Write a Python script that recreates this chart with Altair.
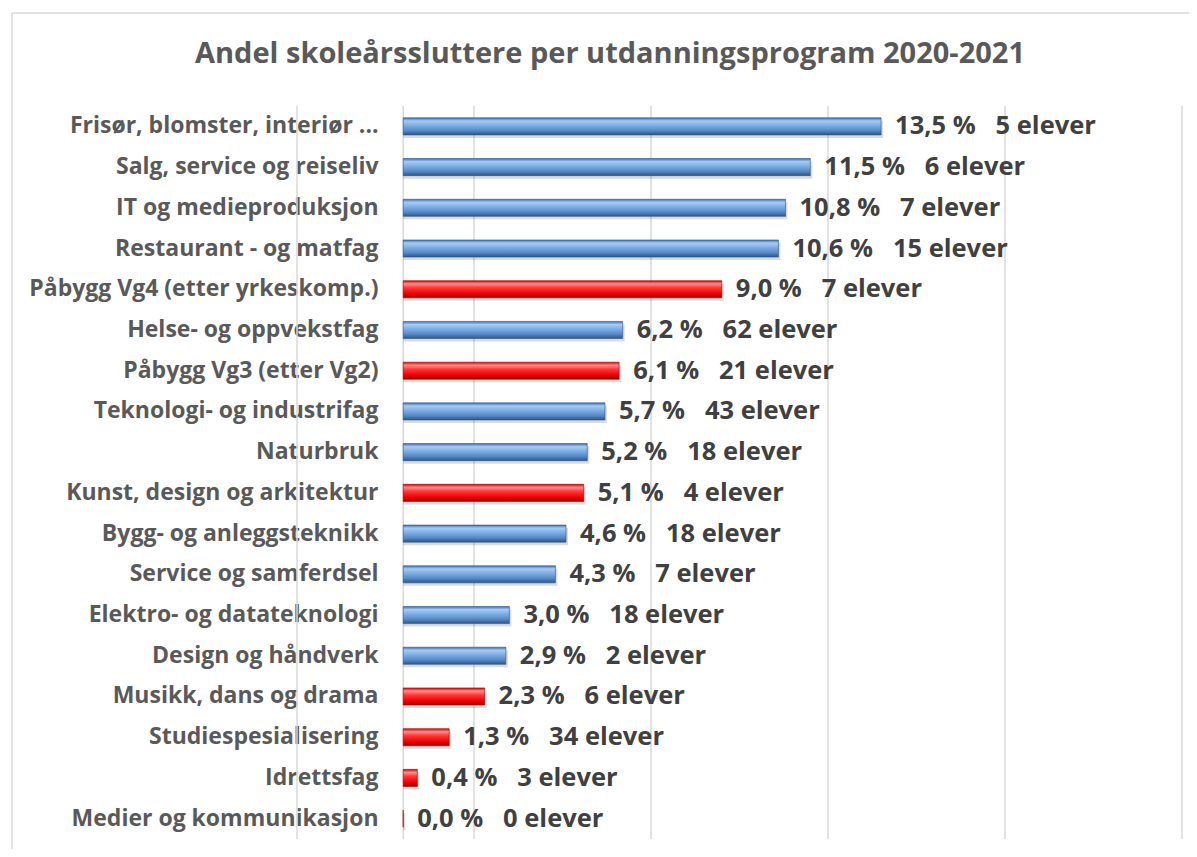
import altair as alt
import pandas as pd

categories = [
    "Frisør, blomster, interiør ...",
    "Salg, service og reiseliv",
    "IT og medieproduksjon",
    "Restaurant - og matfag",
    "Påbygg Vg4 (etter yrkeskomp.)",
    "Helse- og oppvekstfag",
    "Påbygg Vg3 (etter Vg2)",
    "Teknologi- og industrifag",
    "Naturbruk",
    "Kunst, design og arkitektur",
    "Bygg- og anleggsteknikk",
    "Service og samferdsel",
    "Elektro- og datateknologi",
    "Design og håndverk",
    "Musikk, dans og drama",
    "Studiespesialisering",
    "Idrettsfag",
    "Medier og kommunikasjon",
]
percent = [13.5, 11.5, 10.8, 10.6, 9.0, 6.2, 6.1, 5.7, 5.2, 5.1, 4.6, 4.3, 3.0, 2.9, 2.3, 1.3, 0.4, 0.0]
students = [5, 6, 7, 15, 7, 62, 21, 43, 18, 4, 18, 7, 18, 2, 6, 34, 3, 0]
program_type = [
    "Yrkesfag", "Yrkesfag", "Yrkesfag", "Yrkesfag", "Påbygg/Studieforb.",
    "Yrkesfag", "Påbygg/Studieforb.", "Yrkesfag", "Yrkesfag", "Påbygg/Studieforb.",
    "Yrkesfag", "Yrkesfag", "Yrkesfag", "Yrkesfag", "Påbygg/Studieforb.",
    "Påbygg/Studieforb.", "Påbygg/Studieforb.", "Påbygg/Studieforb.",
]
grid_values = [-3, 0, 2, 7, 12, 17, 22]
title_text = "Andel skoleårssluttere per utdanningsprogram 2020-2021"

NB = "\u00a0"
df = pd.DataFrame({"program": categories, "pct": percent, "n": students, "type": program_type})
df["label"] = [
    f"{p:.1f}".replace(".", ",") + NB + "%" + NB * 3 + f"{n}" + NB + "elever"
    for p, n in zip(percent, students)
]

FONT = "Open Sans"

x_scale = alt.Scale(domain=[-3, 22], nice=False, zero=False)
y_enc = alt.Y(
    "program:N",
    sort=categories,
    scale=alt.Scale(paddingInner=0.58, paddingOuter=0.29),
    axis=alt.Axis(
        title=None, domain=False, ticks=False, grid=False,
        labelFont=FONT, labelFontSize=23, labelFontWeight="bold",
        labelColor="#595959", offset=-83, labelPadding=2, labelLimit=400,
    ),
)
x_enc = alt.X("pct:Q", scale=x_scale, axis=None)

blue_grad = alt.Gradient(
    gradient="linear", x1=0, x2=0, y1=0, y2=1,
    stops=[
        alt.GradientStop(color="#3D6FAE", offset=0.0),
        alt.GradientStop(color="#A7CBF2", offset=0.18),
        alt.GradientStop(color="#84B3E8", offset=0.4),
        alt.GradientStop(color="#5588C6", offset=0.75),
        alt.GradientStop(color="#2C5587", offset=1.0),
    ],
)
red_grad = alt.Gradient(
    gradient="linear", x1=0, x2=0, y1=0, y2=1,
    stops=[
        alt.GradientStop(color="#D00000", offset=0.0),
        alt.GradientStop(color="#FF9090", offset=0.18),
        alt.GradientStop(color="#FF3A3A", offset=0.4),
        alt.GradientStop(color="#F20000", offset=0.75),
        alt.GradientStop(color="#A00000", offset=1.0),
    ],
)

grid = alt.Chart(pd.DataFrame({"g": grid_values})).mark_rule(
    color="#D9D9D9", strokeWidth=1.5, clip=False
).encode(x=alt.X("g:Q", scale=x_scale, axis=None))

base = alt.Chart(df)

shadow = base.mark_bar(color="#000000", opacity=0.14, yOffset=3, xOffset=2).encode(
    x=x_enc, x2=alt.datum(0), y=y_enc
)
blue = base.transform_filter(alt.datum.type == "Yrkesfag").mark_bar(
    color=blue_grad, stroke="#2C5587", strokeWidth=0.6
).encode(x=x_enc, x2=alt.datum(0), y=y_enc)
red = base.transform_filter(alt.datum.type != "Yrkesfag").mark_bar(
    color=red_grad, stroke="#A00000", strokeWidth=0.6
).encode(x=x_enc, x2=alt.datum(0), y=y_enc)

labels = base.mark_text(
    align="left", baseline="middle", dx=14, font=FONT, fontSize=25.5,
    fontWeight="bold", color="#404040",
).encode(x=x_enc, y=y_enc, text="label:N")

border_df = pd.DataFrame({"k": [0]})
border_left = alt.Chart(border_df).mark_rule(color="#D9D9D9", strokeWidth=1.5, clip=False).encode(
    x=alt.value(-285), y=alt.value(-93), y2=alt.value(760)
)
border_top = alt.Chart(border_df).mark_rule(color="#D9D9D9", strokeWidth=1.5, clip=False).encode(
    x=alt.value(-285), x2=alt.value(910), y=alt.value(-93)
)
title = alt.Chart(pd.DataFrame({"t": [title_text]})).mark_text(
    align="center", baseline="middle", font=FONT, fontSize=29, fontWeight="bold",
    color="#595959", clip=False,
).encode(text="t:N", x=alt.value(313), y=alt.value(-52))

chart = alt.layer(border_left, border_top, grid, shadow, blue, red, labels, title).properties(
    width=885,
    height=733,
    padding={"left": 289, "top": 98, "right": 7, "bottom": 10},
    autosize=alt.AutoSizeParams(type="none"),
).configure(background="white", view=alt.ViewConfig(stroke=None))

chart.save("out.html", embed_options={"renderer": "svg", "actions": False})
